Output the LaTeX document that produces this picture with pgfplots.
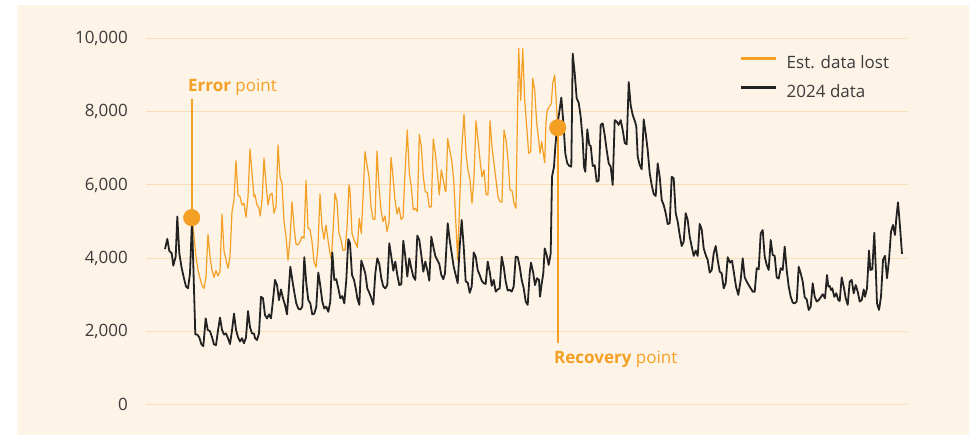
\documentclass[border=0pt]{standalone}
\usepackage{pgfplots}
\pgfplotsset{compat=1.18}
\usepackage{fontspec}
\setmainfont{Open Sans}
\definecolor{bgc}{HTML}{FEF3E7}
\definecolor{gridc}{HTML}{F9DDB5}
\definecolor{orng}{HTML}{F4A024}
\definecolor{blk}{HTML}{222222}
\definecolor{txtc}{HTML}{3C3C3C}
\begin{document}
\begin{tikzpicture}
\useasboundingbox (0,0) rectangle (969pt,436pt);
\fill[white] (0,0) rectangle (969pt,436pt);
\fill[bgc] (17pt,1pt) rectangle (969pt,431pt);
\begin{axis}[
  at={(146pt,31.1pt)}, anchor=south west,
  width=761pt, height=366.5pt, scale only axis,
  xmin=146, xmax=907, ymin=0, ymax=10000,
  axis line style={draw=none},
  xtick=\empty,
  ytick={0,2000,4000,6000,8000,10000},
  scaled y ticks=false,
  ymajorgrids, grid style={gridc, line width=1pt},
  major tick length=0pt,
  yticklabel style={font=\fontsize{17}{20}\selectfont, text=txtc, inner sep=0pt, xshift=-18pt},
  /pgf/number format/1000 sep={,},
  /pgf/number format/assume math mode=true,
  clip=false,
  legend cell align=left,
  legend style={draw=none, fill=none, anchor=north west, at={(axis cs:740,9506)},
    inner sep=0pt, column sep=9pt, row sep=14pt,
    nodes={inner sep=0pt, text height=12pt, text depth=3pt, font=\fontsize{17}{20}\selectfont, text=txtc}},
  legend image code/.code={\draw[#1] (0pt,5.5pt) -- (35pt,5.5pt);},
  legend image post style={line width=2.5pt},
]
% Est. data lost
\addplot[orng, line width=1.2pt, line join=round] table {
192.0 5110
194.0 4590
196.0 4045
198.0 3680
200.0 3455
202.0 3270
204.0 3180
206.0 3500
208.0 4655
210.0 4045
212.0 3680
214.0 3480
216.0 3665
218.0 3520
220.0 3635
222.0 5210
224.0 4200
226.0 3955
228.0 3730
230.0 4045
232.0 5275
234.0 5590
236.0 6665
238.0 5730
240.0 5680
242.0 5455
244.0 5500
246.0 5120
248.0 5680
250.0 6980
252.0 6320
254.0 5680
255.0 5730
257.0 5455
259.0 5365
260.3 5155
262.3 5680
264.0 6730
266.0 6045
268.0 5455
270.0 5730
272.0 5775
274.0 5230
276.0 5410
278.0 7090
280.0 6225
282.0 6045
284.0 5000
286.0 4590
288.0 3955
290.0 4500
292.0 5545
294.0 4865
296.0 4390
298.0 4365
300.0 4455
302.0 4590
304.0 4545
306.0 6120
308.0 4820
310.0 4790
312.0 4455
314.0 3910
316.0 3755
318.0 4320
320.0 5755
322.0 4865
324.0 4520
326.0 4910
328.0 4500
330.0 4135
331.3 3975
333.3 4865
335.0 5775
337.0 5545
339.0 4680
341.0 4500
343.0 4210
345.0 4230
347.0 4820
349.0 6000
350.0 5865
352.0 4680
354.0 4500
356.0 4390
357.3 4300
359.3 5090
361.3 4680
363.3 5820
365.0 6910
367.0 6545
369.0 6225
371.0 5410
373.0 5065
375.0 5065
377.0 6930
379.0 5955
381.0 5320
383.0 5000
385.0 5155
387.0 4730
389.0 4975
391.0 6755
393.0 6225
395.0 5590
397.0 5210
399.0 5390
401.0 5065
403.0 5110
405.0 6320
407.3 7500
409.3 6320
411.3 5955
413.3 5320
415.3 5365
417.3 5275
419.3 7380
421.3 7045
423.3 6225
425.3 5820
427.3 5790
429.3 5390
431.3 5410
433.3 7255
435.3 6865
437.3 6365
439.3 5730
441.3 6410
443.3 6135
445.0 5865
446.0 5820
447.7 7265
449.7 6955
451.7 6680
453.7 6135
455.7 5045
457.7 3950
459.7 5590
461.7 6955
464.0 7940
466.0 6865
468.0 6410
470.0 6135
472.0 5500
474.0 6225
476.0 7755
478.0 7230
480.0 6680
482.0 6225
484.0 6410
486.0 5745
488.0 5730
490.0 7755
492.0 7045
494.0 6590
496.0 6135
498.0 5680
500.0 5545
502.0 5535
504.0 7500
506.0 7230
508.0 6680
510.0 5865
512.0 5845
514.0 5500
516.0 5365
517.3 7640
518.7 9730
520.7 8311
522.7 9730
524.7 8311
526.7 7590
528.7 6865
530.7 6910
532.7 8911
534.7 8587
536.7 7680
538.7 7230
540.0 6865
541.7 7180
543.3 6865
544.7 6610
546.0 7730
547.3 8038
549.3 8134
551.3 8216
552.7 8770
554.7 9004
557.7 7563
};
\addlegendentry{Est. data lost}
% 2024 data
\addplot[blk, line width=1.8pt, line join=round] table {
165.0 4250
167.3 4530
169.3 4200
171.7 4140
173.3 3800
175.7 4050
177.3 5140
179.3 4140
181.7 3730
184.0 3450
186.0 3230
188.0 3180
190.0 3590
192.0 5050
195.3 1920
197.3 1920
199.3 1840
201.3 1660
203.3 1600
205.7 2360
207.7 2050
210.0 2010
212.0 1850
214.0 1650
216.0 1630
218.0 2030
220.0 2380
222.0 2050
224.0 1920
226.0 1950
228.0 1820
230.0 1660
232.0 2030
234.0 2490
236.0 2050
238.0 1850
240.0 1730
242.0 1820
244.0 1680
246.0 1840
248.0 2560
250.0 2120
252.0 1950
254.0 1950
255.0 1820
257.0 1770
259.0 1950
261.0 2950
263.0 2910
265.0 2450
267.0 2360
269.0 2470
271.0 2360
273.0 2860
275.0 3410
277.0 3270
279.0 2860
281.0 3150
283.0 2910
285.0 2730
287.0 2470
289.0 3230
290.3 3770
292.3 3410
294.3 3070
296.3 2770
298.3 2630
300.3 2600
302.3 2680
304.3 4030
306.3 3320
308.3 2860
310.3 2770
312.3 2470
314.3 2490
316.3 2680
318.3 3610
320.3 3250
322.3 2820
324.3 2630
326.3 2680
328.3 2540
330.3 2820
332.3 4160
334.3 3410
336.3 3430
338.3 3180
340.3 2910
342.3 2970
344.3 2770
346.3 3410
348.3 4520
350.0 4410
352.0 3545
354.0 3410
356.0 3140
357.3 2910
359.3 2730
361.3 3940
363.3 3770
365.3 3590
367.3 3180
369.3 3060
371.3 2910
373.3 2740
375.3 3590
377.3 4000
379.3 3845
381.3 3455
383.3 3230
385.3 3180
387.3 3270
389.3 4410
391.3 4045
393.3 3660
395.3 3910
397.3 3545
399.3 3270
401.3 3290
403.3 4480
405.3 4045
407.3 3500
409.3 4000
411.3 3730
413.3 3500
415.3 3410
417.3 4620
419.3 4500
421.3 4090
423.3 3635
425.3 3910
427.3 3680
429.3 3390
431.3 4590
433.3 4320
435.3 4065
437.3 3955
439.3 3845
441.3 3545
443.3 3430
445.0 3590
447.7 4955
449.7 4500
451.7 4135
453.7 3770
455.7 3545
457.7 3320
459.7 4320
461.7 5045
463.7 4320
465.7 3365
467.7 3340
469.7 3060
471.7 3230
473.7 4160
475.7 4045
477.7 3680
479.7 3545
481.7 3390
483.7 3320
485.7 3300
487.7 3910
489.7 3635
491.7 3250
493.7 3410
495.7 3090
497.7 3150
499.7 3180
501.7 4045
503.7 3770
505.7 3365
507.7 3120
509.7 3140
511.7 3090
513.7 3230
515.7 4045
517.7 4030
519.7 3770
521.7 3410
523.7 3180
525.7 2820
527.7 2730
529.7 3590
531.0 3880
533.0 3635
535.0 3270
537.0 3455
539.0 3410
540.0 2950
541.3 3230
543.3 3590
544.7 4270
546.7 4090
548.7 3820
550.7 4135
552.0 6225
554.0 6500
555.3 7045
557.3 7640
559.3 7992
561.3 8385
563.3 7730
565.3 6860
567.3 6590
569.3 6520
571.3 6500
572.7 9585
574.7 9050
576.7 8357
578.7 8246
580.7 7860
582.7 7230
584.0 6500
585.3 6360
587.3 7520
589.3 7090
590.7 7065
592.7 6520
594.7 6540
596.7 6090
598.7 6120
600.7 7640
602.7 7680
604.7 7365
606.7 6950
608.7 6590
610.7 6500
612.7 6000
614.7 7770
616.7 7730
618.7 7640
620.7 7770
622.7 7500
624.7 7150
626.7 7110
628.7 8808
630.7 8170
632.7 7910
635.0 7730
636.3 7600
637.7 6770
639.7 6545
641.7 6430
643.7 7790
645.7 7410
647.7 6950
649.7 6320
651.7 6000
653.7 5755
655.7 5700
657.7 6590
659.7 6225
661.7 5590
663.7 5455
665.7 5230
667.7 4935
669.7 4955
671.7 6225
673.7 6180
675.7 5230
677.7 5000
679.7 4635
681.7 4335
683.7 4455
685.7 5230
687.7 5045
689.7 4590
691.7 4320
693.7 4065
695.7 4210
697.7 4065
699.7 4935
701.7 4790
703.7 4270
705.7 4090
707.7 3955
709.7 3610
711.7 3680
713.7 4135
715.7 4335
717.7 3955
719.7 3635
721.7 3590
723.7 3180
725.7 3320
727.7 4030
730.0 3880
732.0 3935
734.0 3590
736.0 3230
738.3 3000
740.7 3410
742.7 4000
744.7 3480
746.7 3365
748.7 3270
750.7 3180
752.7 3090
754.7 3090
756.7 3730
758.7 3700
760.7 4680
762.7 4770
764.7 4045
766.7 3820
768.7 3680
770.7 4500
772.7 4090
774.7 4065
776.7 3480
778.7 3445
780.7 3730
782.7 3680
784.7 4320
786.7 3680
788.7 3230
790.7 2950
792.7 2790
794.7 2770
796.7 2820
798.7 3770
800.7 3590
802.7 3365
804.7 2935
806.7 2880
808.7 2590
810.7 2680
812.7 3320
814.7 2950
816.7 2820
818.7 2860
820.7 2935
822.7 3020
825.0 2910
827.0 3545
828.3 3225
829.7 3245
831.0 3135
832.3 3180
834.3 2950
836.3 3045
838.3 2860
839.7 2835
841.7 3480
843.7 3230
845.7 2910
847.7 2730
849.7 3365
851.7 3410
853.7 3045
855.7 3270
857.7 3090
859.7 2820
861.7 2860
863.7 3150
865.0 2950
867.0 3180
869.0 4210
870.3 3680
872.3 3700
874.3 4700
875.7 3770
877.0 2770
879.0 2590
881.0 2950
883.0 3955
885.0 4065
887.0 3455
889.0 3955
891.0 4730
893.0 4910
895.0 4635
896.3 5090
898.0 5530
900.0 4865
902.0 4120
};
\addlegendentry{2024 data}
% annotation lines and points
\addplot[orng, line width=1.7pt, forget plot] coordinates {(191.7,5108) (191.7,8347)};
\addplot[orng, line width=1.7pt, forget plot] coordinates {(557.7,7563) (557.7,1689)};
\addplot[only marks, mark=*, mark size=8.3pt, orng, forget plot] coordinates {(191.7,5108) (557.7,7563)};
\node[anchor=base west, inner sep=0pt, text=orng, font=\fontsize{17}{20}\selectfont] at (axis cs:188,8546) {\textbf{Error} point};
\node[anchor=base west, inner sep=0pt, text=orng, font=\fontsize{17}{20}\selectfont] at (axis cs:554,1135) {\textbf{Recovery} point};
\end{axis}
\end{tikzpicture}
\end{document}
